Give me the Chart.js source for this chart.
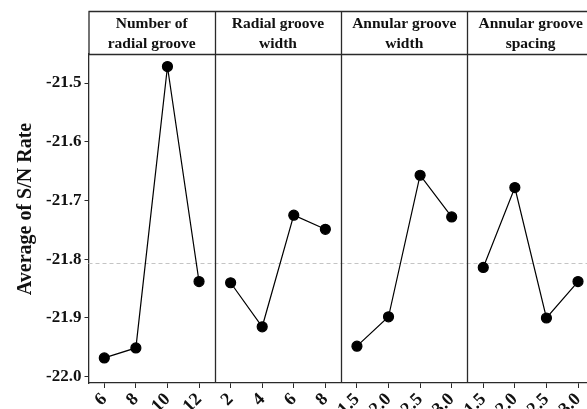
<!DOCTYPE html>
<html>
<head>
<meta charset="utf-8">
<title>Main effects plot for S/N rate</title>
<script src="https://cdn.jsdelivr.net/npm/chart.js@4/dist/chart.umd.min.js"></script>
<style>
  html, body { margin: 0; padding: 0; background: #fff; overflow: hidden; }
  #wrap { width: 600px; height: 409px; }
</style>
</head>
<body>
<div id="wrap"><canvas id="main-effects" width="600" height="409"></canvas></div>
<script>
// factor names (panel headers) and their levels
const factors = [
  ["Number of", "radial groove"],
  ["Radial groove", "width"],
  ["Annular groove", "width"],
  ["Annular groove", "spacing"]
];
const levels = [
  ["6", "8", "10", "12"],
  ["2", "4", "6", "8"],
  ["1.5", "2.0", "2.5", "3.0"],
  ["1.5", "2.0", "2.5", "3.0"]
];

// mean S/N rate per level
const radialNumber = [-21.968, -21.951, -21.472, -21.838];
const radialWidth = [-21.840, -21.915, -21.725, -21.749];
const annularWidth = [-21.948, -21.898, -21.657, -21.728];
const annularSpacing = [-21.814, -21.678, -21.900, -21.838];

const grandMean = -21.807;
const yTicks = [-22.0, -21.9, -21.8, -21.7, -21.6, -21.5];
const yTitle = "Average of S/N Rate";

const serif = "'Liberation Serif', 'Times New Roman', serif";
const series = [radialNumber, radialWidth, annularWidth, annularSpacing];
const labels = [].concat(...levels);

// one dataset per panel, nulls elsewhere so the lines break between panels
let start = 0;
const datasets = series.map(function (vals, i) {
  const data = labels.map(function () { return null; });
  vals.forEach(function (v, j) { data[start + j] = v; });
  start += levels[i].length;
  return {
    label: factors[i].join(" "),
    data: data,
    borderColor: "#000",
    borderWidth: 1.2,
    pointRadius: 5,
    pointBackgroundColor: "#000",
    pointBorderColor: "#000",
    spanGaps: false
  };
});

// frame, panel separators, headers, y title and the grand mean line
const panels = {
  id: "panels",
  beforeDatasetsDraw: function (chart) {
    const ctx = chart.ctx;
    const area = chart.chartArea;
    const x = chart.scales.x;
    const y = chart.scales.y;
    const top = 11;

    let edges = [area.left];
    let k = 0;
    levels.forEach(function (lv, i) {
      k += lv.length;
      if (i < levels.length - 1) {
        edges.push((x.getPixelForValue(k - 1) + x.getPixelForValue(k)) / 2);
      }
    });
    edges.push(area.right);

    ctx.save();
    // mean line
    const my = Math.round(y.getPixelForValue(grandMean)) + 0.5;
    ctx.strokeStyle = "#c4c4c4";
    ctx.lineWidth = 1;
    ctx.setLineDash([4, 3]);
    ctx.beginPath();
    ctx.moveTo(area.left, my);
    ctx.lineTo(area.right, my);
    ctx.stroke();
    ctx.setLineDash([]);

    // frame
    ctx.strokeStyle = "#2a2a2a";
    ctx.lineWidth = 1.3;
    ctx.beginPath();
    ctx.moveTo(area.left, top + 0.5);
    ctx.lineTo(area.right, top + 0.5);
    ctx.moveTo(area.left, area.top + 0.5);
    ctx.lineTo(area.right, area.top + 0.5);
    ctx.moveTo(area.left + 0.5, top);
    ctx.lineTo(area.left + 0.5, area.top);
    ctx.moveTo(area.right - 0.5, top);
    ctx.lineTo(area.right - 0.5, area.bottom);
    for (let i = 1; i < edges.length - 1; i++) {
      const ex = Math.round(edges[i]) + 0.5;
      ctx.moveTo(ex, top);
      ctx.lineTo(ex, area.bottom);
    }
    ctx.stroke();

    // headers
    ctx.fillStyle = "#111";
    ctx.font = "bold 15.5px " + serif;
    ctx.textAlign = "center";
    ctx.textBaseline = "middle";
    factors.forEach(function (lines, i) {
      const cx = (edges[i] + edges[i + 1]) / 2;
      lines.forEach(function (t, j) {
        ctx.fillText(t, cx, 24 + j * 19.5);
      });
    });

    // y title
    ctx.font = "bold 20px " + serif;
    ctx.translate(26, 209);
    ctx.rotate(-Math.PI / 2);
    ctx.fillText(yTitle, 0, 0);
    ctx.restore();
  }
};

const ctx = document.getElementById("main-effects");
const chart = new Chart(ctx, {
  type: "line",
  data: { labels: labels, datasets: datasets },
  plugins: [panels],
  options: {
    responsive: false,
    animation: false,
    devicePixelRatio: 1,
    layout: { padding: { top: 54, right: 2, left: 0, bottom: 0 } },
    plugins: {
      legend: { display: false },
      tooltip: { enabled: false }
    },
    scales: {
      x: {
        type: "category",
        offset: true,
        grid: { drawOnChartArea: false, drawTicks: true, tickLength: 5, offset: false, color: "#2a2a2a" },
        border: { display: true, color: "#2a2a2a", width: 1.3 },
        ticks: {
          autoSkip: false,
          minRotation: 45,
          maxRotation: 45,
          padding: 1,
          color: "#111",
          font: { family: serif, size: 18, weight: "bold" }
        },
        afterFit: function (s) { s.height = 26; }
      },
      y: {
        min: -22.0107,
        max: -21.4506,
        afterBuildTicks: function (s) {
          s.ticks = yTicks.map(function (v) { return { value: v }; });
        },
        grid: { drawOnChartArea: false, tickLength: 4, color: "#2a2a2a" },
        border: { display: true, color: "#2a2a2a", width: 1.3 },
        ticks: {
          padding: 3,
          color: "#111",
          font: { family: serif, size: 17, weight: "bold" },
          callback: function (v) { return Number(v).toFixed(1); }
        },
        afterFit: function (s) { s.width = 88.5; }
      }
    }
  }
});
</script>
</body>
</html>
